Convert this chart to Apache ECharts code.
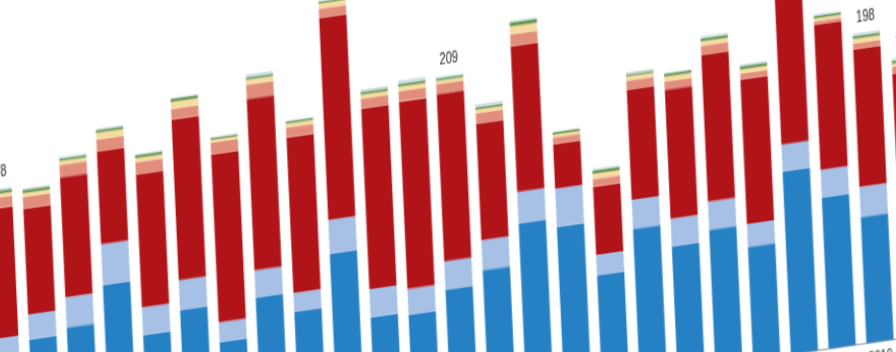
<!DOCTYPE html>
<html>
<head>
<meta charset="utf-8">
<script src="https://cdn.jsdelivr.net/npm/echarts@6/dist/echarts.min.js"></script>
<style>
html,body{margin:0;padding:0;width:896px;height:352px;overflow:hidden;background:#fff;}
#chart{position:absolute;left:0;top:0;width:1000px;height:375px;transform-origin:0 0;}
</style>
</head>
<body>
<div id="chart"></div>
<script>
// Categories (x axis tick labels)
const categories = ['1996','1997','1998','1999','2000','2001','2002','2003','2004','2005','2006','2007','2008','2009','2010','2011','2012','2013','2014','2015','2016','2017','2018','2019','2020'];
// Stacked series values (bottom to top)
const blueVals      = [68,79.6,83.8,107.2,71.7,84.2,60.3,85.6,72.5,106.2,62.3,60.1,73,82,108,102.6,68.3,94.3,79.3,86.7,72.3,116.9,96.7,80.9,78.8];
const lightBlueVals = [15,16,19.2,26.3,17.9,19.2,12.8,17.3,12.2,21.8,17.9,16.7,18,19.2,20.5,24.4,12.8,18.6,17.9,17.9,14.7,17.3,17.9,19.2,17.9];
const redVals       = [83,67.3,76.9,59,84.6,102.6,107,109.6,99.4,128.8,115.4,119.9,107,74.4,93,28.2,43.6,70.5,82.7,93.6,92.3,98,92.3,87.7,72.4];
const salmonVals    = [6.4,7.7,7.7,7.7,8.3,7.1,7.7,9,6.4,6.4,6.4,6.4,6.5,6.4,7.7,4.5,5.1,5.8,5.1,6.4,3.8,7,2.6,3.8,4.5];
const yellowVals    = [2.6,2.6,2.6,4.5,2.6,4.5,1.9,3.2,2.6,3.2,2.6,3.2,2,2.6,5.1,1.9,3.2,2.6,3.2,2.6,2.6,3,1.9,3.2,1.9];
const greenVals     = [2,1.9,1.3,1.9,1.9,1.9,1.3,1.3,1.3,1.3,1.9,1.9,1.3,1.3,2.6,1.3,1.9,1.3,1.9,1.9,1.9,2,1.3,1.9,1.9];
const topVals       = [1.3,1,1.3,0.6,0.6,0.6,0.6,1.9,0.6,0.6,1.3,1.9,1.2,1.9,1,0.6,1.3,1.3,0.6,1.3,1.3,1,1.3,1.3,1.3];
// Bars whose totals are labelled
const labelledBars  = [0,12,23,24];

const seriesDefs = [
  {name:'A', data:blueVals,      color:'#2680c4'},
  {name:'B', data:lightBlueVals, color:'#a6c0e6'},
  {name:'C', data:redVals,       color:'#b01418'},
  {name:'D', data:salmonVals,    color:'#e28e7c'},
  {name:'E', data:yellowVals,    color:'#f6dca0'},
  {name:'F', data:greenVals,     color:'#6c9650'},
  {name:'G', data:topVals,       color:'#c8dee4'}
];
const totals = categories.map((c,i)=>seriesDefs.reduce((s,d)=>s+d.data[i],0));

const chart = echarts.init(document.getElementById('chart'), null, {renderer:'canvas'});
const series = seriesDefs.map((d,si)=>{
  const isTop = si === seriesDefs.length-1;
  return {
    name:d.name, type:'bar', stack:'total', barCategoryGap:'28%',
    itemStyle:{color:d.color},
    data: d.data.map((v,i)=> (isTop && labelledBars.indexOf(i)>=0)
      ? {value:v, label:{show:true, position:'top', distance:5,
          formatter:()=>String(Math.round(totals[i])),
          fontFamily:'Liberation Sans, Arial, sans-serif', fontSize:11, color:'#222'}}
      : v)
  };
});

chart.setOption({
  animation:false,
  grid:{left:20, top:20, width:937.5, height:312.6},
  xAxis:{type:'category', data:categories,
    axisLine:{lineStyle:{color:'#aaaaaa'}},
    axisTick:{lineStyle:{color:'#aaaaaa'}, length:5},
    axisLabel:{margin:5, fontFamily:'Liberation Sans, Arial, sans-serif', fontSize:11, color:'#333'}},
  yAxis:{type:'value', min:0, max:300, axisLabel:{show:false}, splitLine:{show:false}, axisLine:{show:false}, axisTick:{show:false}},
  series:series
});

// Skewed / stretched view, as in the reference photo
const a=1.008, b=-0.146, c=0.0675, d=1.5;
const p = chart.convertToPixel({xAxisIndex:0, yAxisIndex:0}, [23, 0]);
const e = 880 - (a*p[0] + c*p[1]);
const f = 341.5 - (b*p[0] + d*p[1]);
document.getElementById('chart').style.transform = `matrix(${a},${b},${c},${d},${e},${f})`;
</script>
</body>
</html>
